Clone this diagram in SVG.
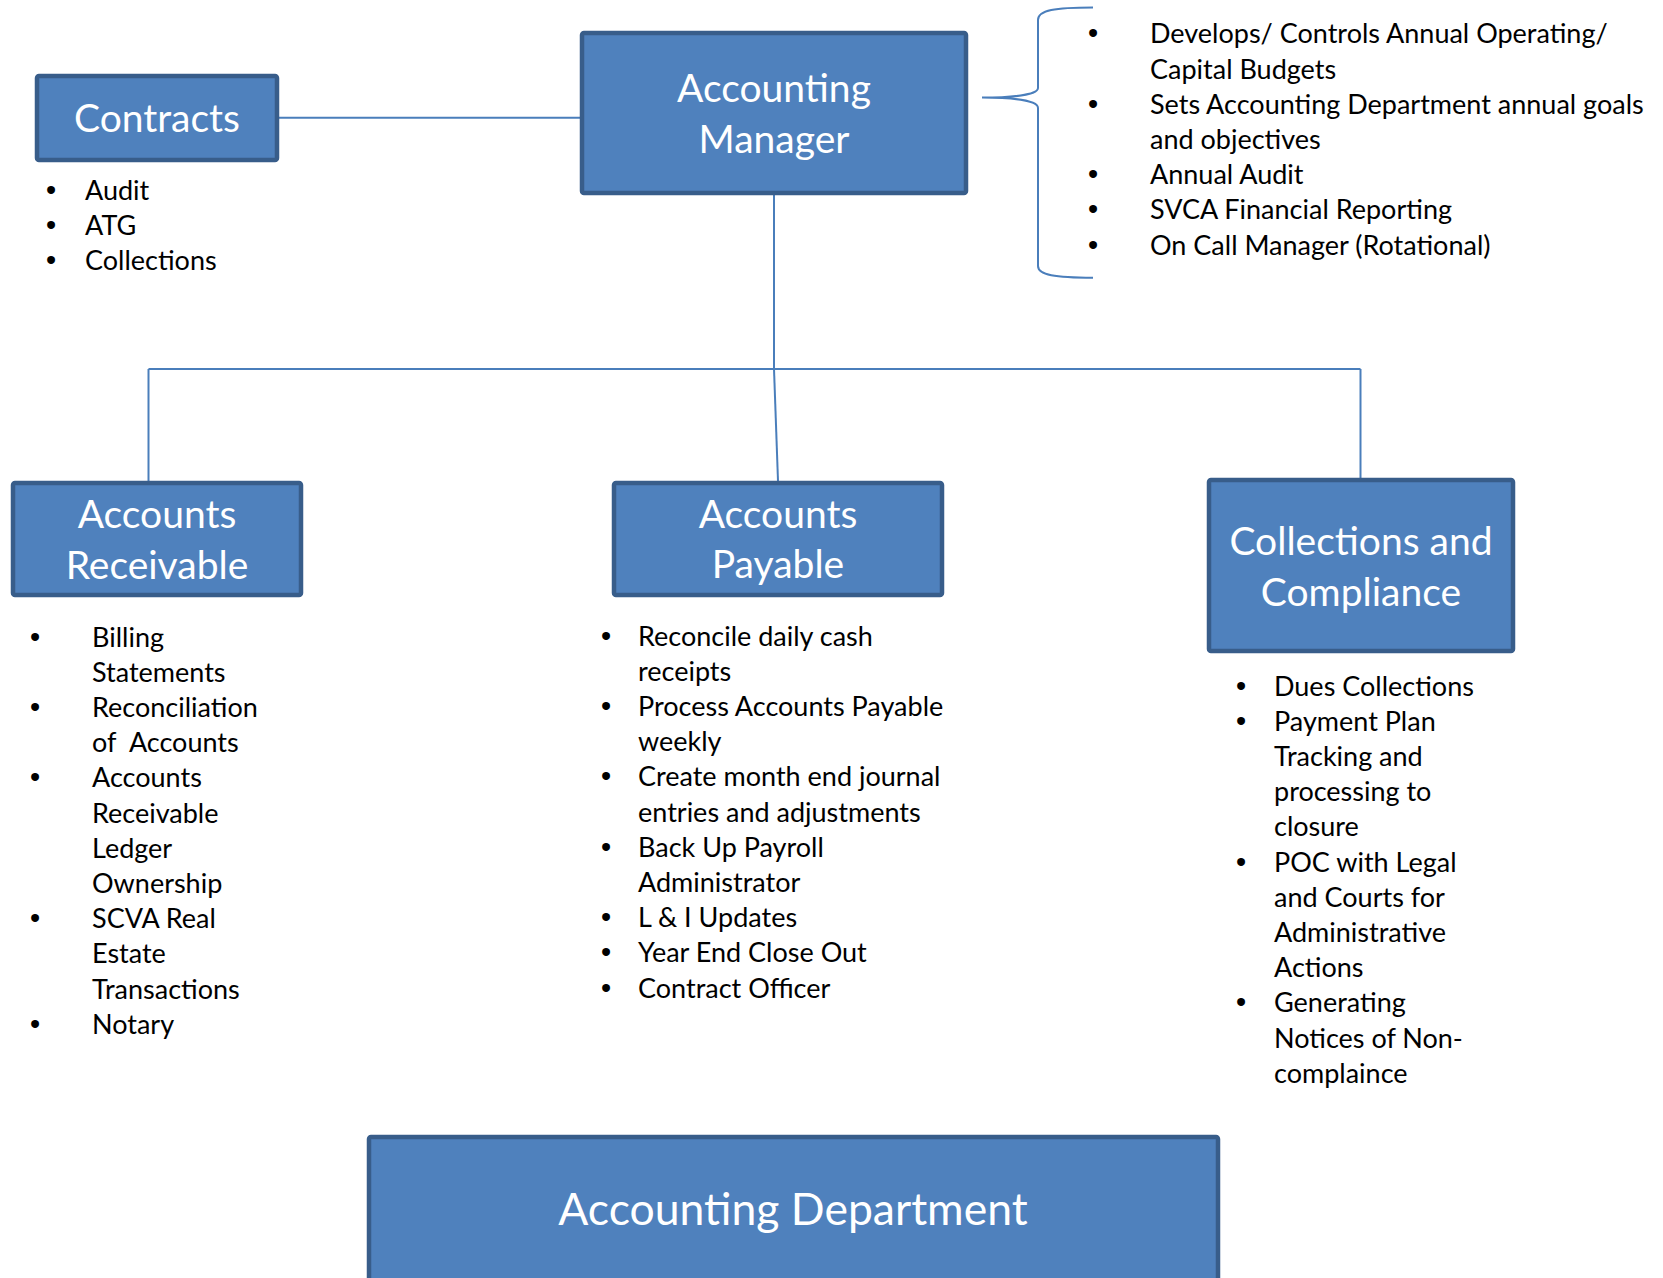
<svg xmlns="http://www.w3.org/2000/svg" width="1663" height="1278" viewBox="0 0 1663 1278">
<style>
.box{fill:#4F81BD;stroke:#385D8A;stroke-width:4.5}
.tt{font-family:Lato,"Liberation Sans",sans-serif;font-size:39px;fill:#fff;text-anchor:middle}
.bt{font-family:Lato,"Liberation Sans",sans-serif;font-size:27px;fill:#000}
.bu{font-family:"Liberation Sans",sans-serif;font-size:29px;fill:#000}
.ln{fill:none;stroke:#4A7EBB;stroke-width:2}
</style>
<rect width="1663" height="1278" fill="#fff"/>
<g id="connectors">
<path class="ln" d="M279,117.7 H580"/>
<path class="ln" d="M774,195 V369"/>
<path class="ln" d="M148.5,369 H1360.5"/>
<path class="ln" d="M148.5,369 V481"/>
<path class="ln" d="M774,369 L778,481"/>
<path class="ln" d="M1360.5,369 V478"/>
<path class="ln" d="M1093,7.5 C1055,7.5 1038,10 1038,20 L1038,88 C1038,95 1010,97.6 982,97.6 C1010,97.6 1038,100 1038,108 L1038,266 C1038,275 1055,277.7 1093,277.7"/>
</g>
<g id="contracts">
<rect class="box" x="37" y="76" width="240" height="84" rx="2"/>
<text class="tt" x="157" y="132">Contracts</text>
<text class="bu"><tspan x="46" y="200">•</tspan><tspan x="46" y="235">•</tspan><tspan x="46" y="270">•</tspan></text>
<text class="bt"><tspan x="85" y="200">Audit</tspan><tspan x="85" y="235">ATG</tspan><tspan x="85" y="270">Collections</tspan></text>
</g>
<g id="manager">
<rect class="box" x="582" y="33" width="384" height="160" rx="2"/>
<text class="tt" x="774" y="102">Accounting</text>
<text class="tt" x="774" y="152.5">Manager</text>
<text class="bu"><tspan x="1088" y="43.3">•</tspan><tspan x="1088" y="113.7">•</tspan><tspan x="1088" y="184.1">•</tspan><tspan x="1088" y="219.3">•</tspan><tspan x="1088" y="254.5">•</tspan></text>
<text class="bt">
<tspan x="1150" y="43.3">Develops/ Controls Annual Operating/</tspan>
<tspan x="1150" y="78.5">Capital Budgets</tspan>
<tspan x="1150" y="113.7">Sets Accounting Department annual goals</tspan>
<tspan x="1150" y="148.9">and objectives</tspan>
<tspan x="1150" y="184.1">Annual Audit</tspan>
<tspan x="1150" y="219.3">SVCA Financial Reporting</tspan>
<tspan x="1150" y="254.5">On Call Manager (Rotational)</tspan>
</text>
</g>
<g id="receivable">
<rect class="box" x="13" y="483" width="288" height="112" rx="2"/>
<text class="tt" x="157" y="528">Accounts</text>
<text class="tt" x="157" y="579">Receivable</text>
<text class="bu"><tspan x="30" y="646.5">•</tspan><tspan x="30" y="716.9">•</tspan><tspan x="30" y="787.3">•</tspan><tspan x="30" y="928.1">•</tspan><tspan x="30" y="1033.7">•</tspan></text>
<text class="bt">
<tspan x="92" y="646.5">Billing</tspan>
<tspan x="92" y="681.7">Statements</tspan>
<tspan x="92" y="716.9">Reconciliation</tspan>
<tspan x="92" y="752.1">of&#160; Accounts</tspan>
<tspan x="92" y="787.3">Accounts</tspan>
<tspan x="92" y="822.5">Receivable</tspan>
<tspan x="92" y="857.7">Ledger</tspan>
<tspan x="92" y="892.9">Ownership</tspan>
<tspan x="92" y="928.1">SCVA Real</tspan>
<tspan x="92" y="963.3">Estate</tspan>
<tspan x="92" y="998.5">Transactions</tspan>
<tspan x="92" y="1033.7">Notary</tspan>
</text>
</g>
<g id="payable">
<rect class="box" x="614" y="483" width="328" height="112" rx="2"/>
<text class="tt" x="778" y="528">Accounts</text>
<text class="tt" x="778" y="578">Payable</text>
<text class="bu"><tspan x="601" y="645.5">•</tspan><tspan x="601" y="715.9">•</tspan><tspan x="601" y="786.3">•</tspan><tspan x="601" y="856.7">•</tspan><tspan x="601" y="927.1">•</tspan><tspan x="601" y="962.3">•</tspan><tspan x="601" y="997.5">•</tspan></text>
<text class="bt">
<tspan x="638" y="645.5">Reconcile daily cash</tspan>
<tspan x="638" y="680.7">receipts</tspan>
<tspan x="638" y="715.9">Process Accounts Payable</tspan>
<tspan x="638" y="751.1">weekly</tspan>
<tspan x="638" y="786.3">Create month end journal</tspan>
<tspan x="638" y="821.5">entries and adjustments</tspan>
<tspan x="638" y="856.7">Back Up Payroll</tspan>
<tspan x="638" y="891.9">Administrator</tspan>
<tspan x="638" y="927.1">L &amp; I Updates</tspan>
<tspan x="638" y="962.3">Year End Close Out</tspan>
<tspan x="638" y="997.5">Contract Officer</tspan>
</text>
</g>
<g id="collections">
<rect class="box" x="1209" y="480" width="304" height="171" rx="2"/>
<text class="tt" x="1361" y="555">Collections and</text>
<text class="tt" x="1361" y="606">Compliance</text>
<text class="bu"><tspan x="1236" y="695.5">•</tspan><tspan x="1236" y="730.7">•</tspan><tspan x="1236" y="871.5">•</tspan><tspan x="1236" y="1012.3">•</tspan></text>
<text class="bt">
<tspan x="1274" y="695.5">Dues Collections</tspan>
<tspan x="1274" y="730.7">Payment Plan</tspan>
<tspan x="1274" y="765.9">Tracking and</tspan>
<tspan x="1274" y="801.1">processing to</tspan>
<tspan x="1274" y="836.3">closure</tspan>
<tspan x="1274" y="871.5">POC with Legal</tspan>
<tspan x="1274" y="906.7">and Courts for</tspan>
<tspan x="1274" y="941.9">Administrative</tspan>
<tspan x="1274" y="977.1">Actions</tspan>
<tspan x="1274" y="1012.3">Generating</tspan>
<tspan x="1274" y="1047.5">Notices of Non-</tspan>
<tspan x="1274" y="1082.7">complaince</tspan>
</text>
</g>
<g id="department">
<rect class="box" x="369" y="1137" width="849" height="160" rx="2"/>
<text class="tt" x="793" y="1225" style="font-size:44.5px">Accounting Department</text>
</g>
</svg>
